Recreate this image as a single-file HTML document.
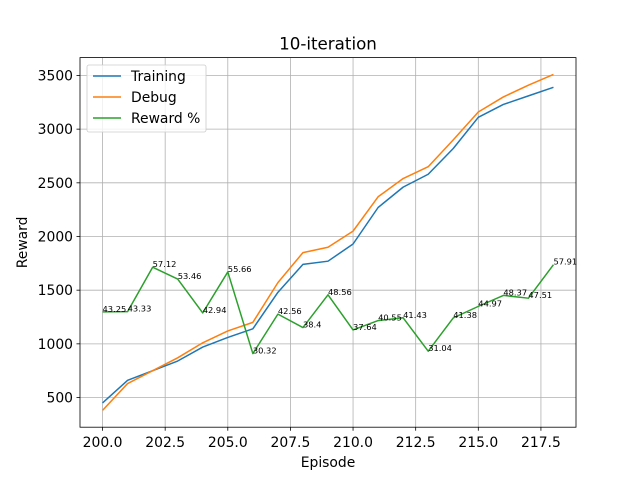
<!DOCTYPE html>
<html><head><meta charset="utf-8"><style>body{margin:0;background:#fff}svg{display:block;font-family:"DejaVu Sans","Liberation Sans",sans-serif}</style></head>
<body>
<svg id="chart" width="640" height="480" viewBox="0 0 640 480"></svg>
<script>
const episodes=[200,201,202,203,204,205,206,207,208,209,210,211,212,213,214,215,216,217,218];
const training=[450,660,750,840,970,1060,1140,1480,1740,1770,1930,2270,2460,2580,2820,3110,3230,3310,3390];
const debug=[380,630,750,870,1010,1120,1200,1570,1850,1900,2050,2370,2540,2650,2900,3160,3300,3410,3510];
const rewardPct=[43.25,43.33,57.12,53.46,42.94,55.66,30.32,42.56,38.4,48.56,37.64,40.55,41.43,31.04,41.38,44.97,48.37,47.51,57.91];
const pctScale=30;
const xTicks=[200,202.5,205,207.5,210,212.5,215,217.5];
const xTickLabels=["200.0","202.5","205.0","207.5","210.0","212.5","215.0","217.5"];
const yTicks=[500,1000,1500,2000,2500,3000,3500];

const L=80,R=576,T=57.6,B=427.2;
const svg=document.getElementById('chart');
const NS='http://www.w3.org/2000/svg';
const xmin=Math.min(...episodes),xmax=Math.max(...episodes),xm=(xmax-xmin)*0.05;
const all=training.concat(debug,rewardPct.map(v=>v*pctScale));
const ymin=Math.min(...all),ymax=Math.max(...all),ym=(ymax-ymin)*0.05;
const X=v=>L+(v-(xmin-xm))/((xmax+xm)-(xmin-xm))*(R-L);
const Y=v=>B-(v-(ymin-ym))/((ymax+ym)-(ymin-ym))*(B-T);
function mk(tag,attrs,txt){const e=document.createElementNS(NS,tag);for(const k in attrs)e.setAttribute(k,attrs[k]);if(txt!==undefined)e.textContent=txt;svg.appendChild(e);return e;}

xTicks.forEach((t,i)=>{
  const g=mk('line',{x1:X(t),x2:X(t),y1:T,y2:B,stroke:'#b0b0b0','stroke-width':0.8});
  
  const tk=mk('line',{x1:X(t),x2:X(t),y1:B,y2:B+3.5,stroke:'#000','stroke-width':0.8});
  
  const lb=mk('text',{x:X(t),y:B+20,'font-size':13.9,'text-anchor':'middle'},xTickLabels[i]);
  
});
yTicks.forEach(t=>{
  const g=mk('line',{x1:L,x2:R,y1:Y(t),y2:Y(t),stroke:'#b0b0b0','stroke-width':0.8});
  
  const tk=mk('line',{x1:L-3.5,x2:L,y1:Y(t),y2:Y(t),stroke:'#000','stroke-width':0.8});
  
  const lb=mk('text',{x:L-7,y:Y(t)+5,'font-size':13.9,'text-anchor':'end'},String(t));
  
});
function line(vals,color,name){
  const p=mk('polyline',{points:vals.map((v,i)=>X(episodes[i])+','+Y(v)).join(' '),fill:'none',stroke:color,'stroke-width':1.5,'stroke-linejoin':'round'});
  
}
line(training,'#1f77b4','training-line');
line(debug,'#ff7f0e','debug-line');
line(rewardPct.map(v=>v*pctScale),'#2ca02c','reward-pct-line');
rewardPct.forEach((v,i)=>{
  const a=mk('text',{x:X(episodes[i]),y:Y(v*pctScale),'font-size':8.3},String(v));
  
});
const fr=mk('rect',{x:L,y:T,width:R-L,height:B-T,fill:'none',stroke:'#000','stroke-width':0.8});

const ti=mk('text',{x:(L+R)/2,y:T-8,'font-size':16.7,'text-anchor':'middle'},'10-iteration');

const xt=mk('text',{x:(L+R)/2,y:B+40,'font-size':13.9,'text-anchor':'middle'},'Episode');

const yt=mk('text',{x:0,y:0,'font-size':13.9,'text-anchor':'middle',transform:'translate(27,'+((T+B)/2)+') rotate(-90)'},'Reward');

const lg=mk('rect',{x:87,y:65,width:119,height:67,rx:2,fill:'#fff','fill-opacity':0.8,stroke:'#ccc','stroke-width':0.8});

[['Training','#1f77b4'],['Debug','#ff7f0e'],['Reward %','#2ca02c']].forEach((e,i)=>{
  const y=76+i*21;
  const s=mk('line',{x1:93,x2:121,y1:y,y2:y,stroke:e[1],'stroke-width':1.5});
  
  const t=mk('text',{x:131,y:y+5,'font-size':13.9},e[0]);
  
});
</script>
</body></html>
